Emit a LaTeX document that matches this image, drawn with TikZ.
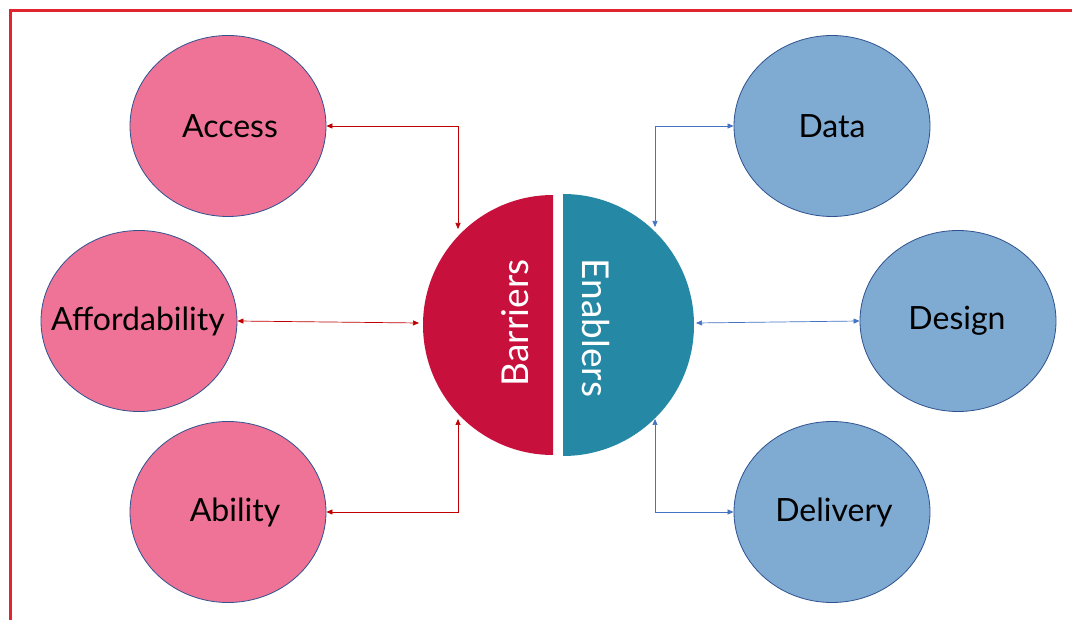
\documentclass[tikz,border=0pt]{standalone}
\usepackage{fontspec}
\setmainfont{Lato}
\usetikzlibrary{shapes.geometric,arrows.meta}
\definecolor{pinkf}{HTML}{EF7397}
\definecolor{bluef}{HTML}{7FAAD2}
\definecolor{edgec}{HTML}{2F528F}
\definecolor{barcol}{HTML}{C8103C}
\definecolor{encol}{HTML}{2589A6}
\definecolor{connR}{HTML}{C00000}
\definecolor{connB}{HTML}{4472C4}
\definecolor{framec}{HTML}{E02430}
\begin{document}
\begin{tikzpicture}[x=1pt,y=-1pt,
  bubble/.style={ellipse, draw=edgec, line width=0.8pt, minimum width=196pt, minimum height=181pt, inner sep=0pt},
  pinkb/.style={bubble, fill=pinkf},
  blueb/.style={bubble, fill=bluef},
  lab/.style={inner sep=0pt, font=\fontsize{32}{36}\selectfont},
  rlink/.style={{Triangle[length=6pt,width=5pt]}-{Triangle[length=6pt,width=5pt]}, draw=connR, line width=0.7pt},
  blink/.style={{Triangle[length=6pt,width=5pt]}-{Triangle[length=6pt,width=5pt]}, draw=connB, line width=0.7pt},
  halflabel/.style={text=white, inner sep=0pt, font=\fontsize{37}{42}\selectfont}]
\useasboundingbox (0,0) rectangle (1072,620);
\clip (0,0) rectangle (1072,620);
\fill[white] (0,0) rectangle (1072,620);
\draw[framec, line width=3pt] (10.5,10.5) rectangle (1100,650);

% outer bubbles
\node[pinkb] (acc) at (228,126) {};
\node[pinkb] (aff) at (139,321) {};
\node[pinkb] (abi) at (228,512) {};
\node[blueb] (dat) at (832,126) {};
\node[blueb] (des) at (958,321) {};
\node[blueb] (del) at (832,512) {};
\node[lab] (accT) at (230,126) {Access};
\node[lab] (affT) at (138,321) {Affordability};
\node[lab] (abiT) at (235,512) {Ability};
\node[lab] (datT) at (832,126) {Data};
\node[lab] (desT) at (957,321) {Design};
\node[lab] (delT) at (834,512) {Delivery};

% central split circle
\begin{scope}
  \clip (400,180) rectangle (553,470);
  \fill[barcol] (553,325) circle (130pt);
\end{scope}
\begin{scope}
  \clip (563,180) rectangle (720,470);
  \fill[encol] (563,325) circle (131pt);
\end{scope}
\node[halflabel, rotate=90] (bar) at (515,323) {Barriers};
\node[halflabel, rotate=-90] (ena) at (596,328) {Enablers};

% connector ends on the central circle
\coordinate (barTop) at (458,229);
\coordinate (barBot) at (458,419);
\coordinate (barL) at (419,323);
\coordinate (enaTop) at (655,227);
\coordinate (enaBot) at (655,419);
\coordinate (enaR) at (696,323);

\draw[rlink] (acc.east) -| (barTop);
\draw[rlink] (aff.east) -- (barL);
\draw[rlink] (abi.east) -| (barBot);
\draw[blink] (dat.west) -| (enaTop);
\draw[blink] (des.west) -- (enaR);
\draw[blink] (del.west) -| (enaBot);
\end{tikzpicture}
\end{document}
